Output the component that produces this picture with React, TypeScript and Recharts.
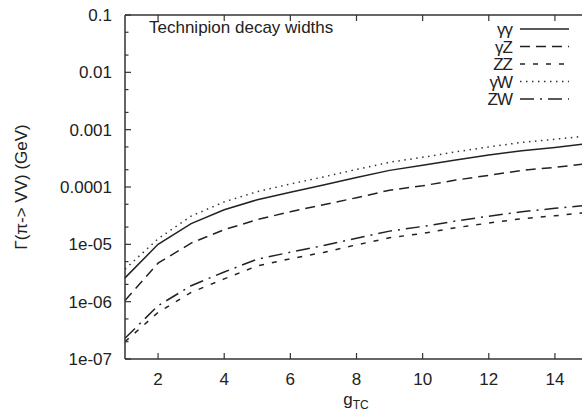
import { LineChart, Line, XAxis, YAxis } from 'recharts';

// ─── Data ────────────────────────────────────────────────────────────────────

const gTC = [1, 2, 3, 4, 5, 6, 7, 8, 9, 10, 11, 12, 13, 14, 15];

const gammaGamma = [
  2.6e-6, 1.0e-5, 2.3e-5, 4.0e-5, 6.0e-5, 8.1e-5, 1.08e-4, 1.47e-4, 1.95e-4,
  2.4e-4, 2.95e-4, 3.6e-4, 4.3e-4, 4.9e-4, 5.7e-4,
];
const gammaZ = [
  1.05e-6, 4.7e-6, 1.05e-5, 1.8e-5, 2.7e-5, 3.7e-5, 4.9e-5, 6.5e-5, 8.8e-5,
  1.05e-4, 1.32e-4, 1.6e-4, 1.95e-4, 2.2e-4, 2.55e-4,
];
const zz = [
  2.0e-7, 6.5e-7, 1.45e-6, 2.5e-6, 4.2e-6, 5.6e-6, 7.2e-6, 9.8e-6, 1.3e-5,
  1.55e-5, 1.95e-5, 2.35e-5, 2.8e-5, 3.15e-5, 3.6e-5,
];
const gammaW = [
  3.7e-6, 1.25e-5, 3.1e-5, 5.5e-5, 8.3e-5, 1.13e-4, 1.5e-4, 2.02e-4, 2.7e-4,
  3.3e-4, 4.1e-4, 5.0e-4, 6.0e-4, 6.8e-4, 7.8e-4,
];
const zw = [
  2.3e-7, 8.5e-7, 1.9e-6, 3.3e-6, 5.5e-6, 7.3e-6, 9.5e-6, 1.28e-5, 1.7e-5,
  2.05e-5, 2.55e-5, 3.1e-5, 3.7e-5, 4.25e-5, 4.8e-5,
];

const xTicks = [2, 4, 6, 8, 10, 12, 14];
const yMajorTicks = [1e-7, 1e-6, 1e-5, 1e-4, 1e-3, 1e-2, 1e-1];
const yMinorTicks = yMajorTicks.slice(0, -1).flatMap((d) => [2 * d, 5 * d]);

// ─── Styles ──────────────────────────────────────────────────────────────────

const INK = '#222';
const AXIS = '#333';
const FONT = '"Liberation Sans", Arial, sans-serif';
const Y_TICK_GAP = 13;
const X_TICK_GAP = 14;

const SERIES = [
  { key: 'gg', label: 'γγ', values: gammaGamma, dash: undefined, color: '#222' },
  { key: 'gz', label: 'γZ', values: gammaZ, dash: '10 6', color: '#222' },
  { key: 'zz', label: 'ZZ', values: zz, dash: '5 8', color: '#222' },
  { key: 'gw', label: 'γW', values: gammaW, dash: '1.5 4.5', color: '#333' },
  { key: 'zw', label: 'ZW', values: zw, dash: '14 6 2 6', color: '#222' },
];

const rows = gTC.map((g, i) => {
  const row: Record<string, number> = { g };
  SERIES.forEach((s) => (row[s.key] = s.values[i]));
  return row;
});

function formatY(v: number) {
  if (v >= 1e-4) return String(v);
  return v.toExponential(0).replace(/e-(\d)$/, 'e-0$1');
}

// ─── Ticks ───────────────────────────────────────────────────────────────────

function YTick(props: any) {
  const { x, y, payload } = props;
  const major = yMajorTicks.some((t) => Math.abs(t - payload.value) < t * 1e-6);
  const ax = x + Y_TICK_GAP;
  return (
    <g>
      <line x1={ax} x2={ax + (major ? 6 : 3.5)} y1={y} y2={y} stroke={AXIS} strokeWidth={1.2} />
      {major && (
        <text x={x} y={y} dy="0.35em" textAnchor="end" fontSize={17} fill={INK} fontFamily={FONT}>
          {formatY(payload.value)}
        </text>
      )}
    </g>
  );
}

function BottomTick(props: any) {
  const { x, y, payload } = props;
  const ay = y - X_TICK_GAP;
  return (
    <g>
      <line x1={x} x2={x} y1={ay} y2={ay - 6} stroke={AXIS} strokeWidth={1.2} />
      <text x={x} y={y} dy="0.71em" textAnchor="middle" fontSize={17} fill={INK} fontFamily={FONT}>
        {payload.value}
      </text>
    </g>
  );
}

function TopTick(props: any) {
  const { x, y } = props;
  return <line x1={x} x2={x} y1={y} y2={y + 6} stroke={AXIS} strokeWidth={1.2} />;
}

// ─── Component ───────────────────────────────────────────────────────────────

export default function App() {
  return (
    <div
      style={{
        position: 'fixed',
        left: 0,
        top: 0,
        width: 582,
        height: 417,
        overflow: 'hidden',
        background: '#fff',
        fontFamily: FONT,
      }}
    >
      <LineChart
        width={600}
        height={417}
        data={rows}
        margin={{ top: 5, right: 12, bottom: 0, left: 0 }}
      >
        <XAxis
          xAxisId="top"
          orientation="top"
          dataKey="g"
          type="number"
          domain={[1, 15]}
          ticks={xTicks}
          interval={0}
          height={10}
          tickSize={0}
          tickMargin={0}
          tickLine={false}
          tick={(p: any) => <TopTick {...p} />}
          axisLine={{ stroke: AXIS, strokeWidth: 1.5 }}
        />
        <XAxis
          dataKey="g"
          type="number"
          domain={[1, 15]}
          ticks={xTicks}
          interval={0}
          height={58}
          tickSize={0}
          tickMargin={X_TICK_GAP}
          tickLine={false}
          tick={(p: any) => <BottomTick {...p} />}
          axisLine={{ stroke: AXIS, strokeWidth: 1.5 }}
        />
        <YAxis
          scale="log"
          domain={[1e-7, 0.1]}
          allowDataOverflow
          ticks={[...yMajorTicks, ...yMinorTicks]}
          interval={0}
          width={125}
          tickSize={0}
          tickMargin={Y_TICK_GAP}
          tickLine={false}
          tick={(p: any) => <YTick {...p} />}
          axisLine={{ stroke: AXIS, strokeWidth: 1.5 }}
        />
        {SERIES.map((s) => (
          <Line
            key={s.key}
            type="linear"
            dataKey={s.key}
            stroke={s.color}
            strokeWidth={1.5}
            strokeDasharray={s.dash}
            dot={false}
            isAnimationActive={false}
          />
        ))}
      </LineChart>

      {/* title, legend and axis labels */}
      <svg
        width={582}
        height={417}
        style={{ position: 'absolute', left: 0, top: 0, pointerEvents: 'none' }}
      >
        <text x={149} y={33} fontSize={17} fill={INK} fontFamily={FONT}>
          Technipion decay widths
        </text>
        {SERIES.map((s, i) => {
          const ly = 29 + i * 17.5;
          return (
            <g key={s.key}>
              <text x={512} y={ly + 6} textAnchor="end" fontSize={17} fill={INK} fontFamily={FONT} letterSpacing={-1}>
                {s.label}
              </text>
              <line x1={520} x2={569} y1={ly} y2={ly} stroke={s.color} strokeWidth={1.5} strokeDasharray={s.dash} />
            </g>
          );
        })}
        <text
          transform="translate(27 187) rotate(-90)"
          textAnchor="middle"
          fontSize={17}
          fill={INK}
          fontFamily={FONT}
        >
          Γ(π-&gt; VV) (GeV)
        </text>
        <text x={356} y={405} textAnchor="middle" fontSize={17} fill={INK} fontFamily={FONT}>
          g
          <tspan fontSize={12} dy={4}>
            TC
          </tspan>
        </text>
      </svg>
    </div>
  );
}
